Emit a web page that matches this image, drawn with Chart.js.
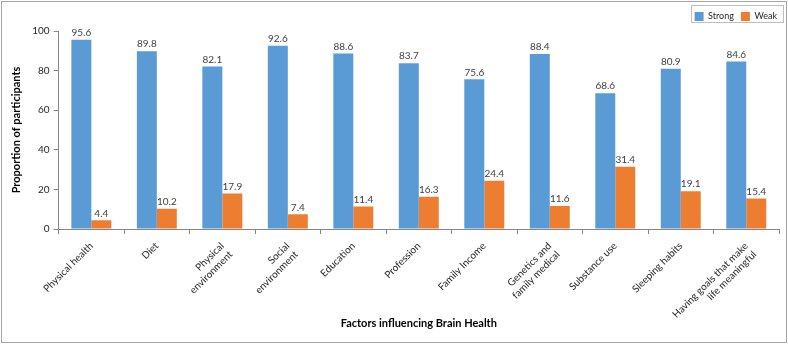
<!DOCTYPE html>
<html>
<head>
<meta charset="utf-8">
<script src="https://cdn.jsdelivr.net/npm/chart.js@4"></script>
<style>
  html, body { margin: 0; padding: 0; background: #fff; }
  #wrap { width: 788px; height: 344px; position: relative; }
</style>
</head>
<body>
<div id="wrap"><canvas id="myChart"></canvas></div>
<script>
const factors = [
  "Physical health", "Diet", ["Physical", "environment"], ["Social", "environment"],
  "Education", "Profession", "Family Income", ["Genetics and", "family medical"],
  "Substance use", "Sleeping habits", ["Having goals that make", "life meaningful"]
];
const strong = [95.6, 89.8, 82.1, 92.6, 88.6, 83.7, 75.6, 88.4, 68.6, 80.9, 84.6];
const weak = [4.4, 10.2, 17.9, 7.4, 11.4, 16.3, 24.4, 11.6, 31.4, 19.1, 15.4];
const yTicks = [0, 20, 40, 60, 80, 100];

const font = "Lato";
const textCol = "#262626";
const axisCol = "#868686";

// values on top of the bars
const barLabels = {
  id: "barLabels",
  afterDatasetsDraw(chart) {
    const ctx = chart.ctx;
    ctx.save();
    ctx.font = "10px " + font;
    ctx.fillStyle = "#404040";
    ctx.textAlign = "center";
    ctx.textBaseline = "bottom";
    chart.data.datasets.forEach((ds, i) => {
      chart.getDatasetMeta(i).data.forEach((bar, j) => {
        ctx.fillText(ds.data[j].toFixed(1), bar.x, bar.y - 2);
      });
    });
    ctx.restore();
  }
};

// border round the legend and round the picture
const frames = {
  id: "frames",
  afterLayout(chart) {
    const lg = chart.legend;
    lg.left += 5;
    lg.right += 5;
    lg.legendHitBoxes.forEach(b => { b.left += 5; });
  },
  beforeDraw(chart) {
    const ctx = chart.ctx;
    ctx.save();
    ctx.fillStyle = "#fff";
    ctx.fillRect(0, 0, chart.width, chart.height);
    ctx.restore();
  },
  afterDraw(chart) {
    const ctx = chart.ctx;
    const lg = chart.legend;
    ctx.save();
    ctx.strokeStyle = "#a6a6a6";
    ctx.lineWidth = 1;
    ctx.strokeRect(1.5, 1.5, chart.width - 3, chart.height - 3);
    ctx.strokeStyle = "#bfbfbf";
    const hb = lg.legendHitBoxes;
    if (hb.length) {
      const x0 = hb[0].left - 4;
      const x1 = Math.min(hb[hb.length - 1].left + hb[hb.length - 1].width + 6, chart.width - 3);
      ctx.strokeRect(Math.round(x0) + 0.5, 5.5, Math.round(x1 - x0), 17);
    }
    ctx.restore();
  }
};

new Chart(document.getElementById("myChart"), {
  type: "bar",
  data: {
    labels: factors,
    datasets: [
      { label: "Strong", data: strong, backgroundColor: "#5B9BD5" },
      { label: "Weak", data: weak, backgroundColor: "#ED7D31" }
    ]
  },
  options: {
    responsive: true,
    maintainAspectRatio: false,
    animation: false,
    datasets: { bar: { categoryPercentage: 0.61, barPercentage: 1 } },
    layout: { padding: { top: 5, right: 9, left: 6, bottom: 10 } },
    plugins: {
      legend: {
        position: "top",
        align: "end",
        labels: {
          boxWidth: 9, boxHeight: 9, padding: 7,
          font: { family: font, size: 9 }, color: textCol
        }
      },
      tooltip: { enabled: false }
    },
    scales: {
      x: {
        afterFit(scale) { scale.height = 105; },
        grid: { display: true, drawOnChartArea: false, offset: true, tickLength: 5, color: axisCol },
        border: { color: axisCol },
        ticks: {
          autoSkip: false, maxRotation: 45, minRotation: 45,
          font: { family: font, size: 10 }, color: textCol, padding: 6
        },
        title: {
          display: true, text: "Factors influencing Brain Health",
          font: { family: font, size: 11, weight: "bold" }, color: "#000", padding: { top: 0 }
        }
      },
      y: {
        min: 0, max: 100,
        afterBuildTicks(axis) { axis.ticks = yTicks.map(v => ({ value: v })); },
        grid: { display: true, drawOnChartArea: false, tickLength: 5, color: axisCol },
        border: { color: axisCol },
        ticks: { font: { family: font, size: 10 }, color: textCol, padding: 4 },
        title: {
          display: true, text: "Proportion of participants",
          font: { family: font, size: 11, weight: "bold" }, color: "#000", padding: { bottom: 5 }
        }
      }
    }
  },
  plugins: [barLabels, frames]
});
</script>
</body>
</html>
